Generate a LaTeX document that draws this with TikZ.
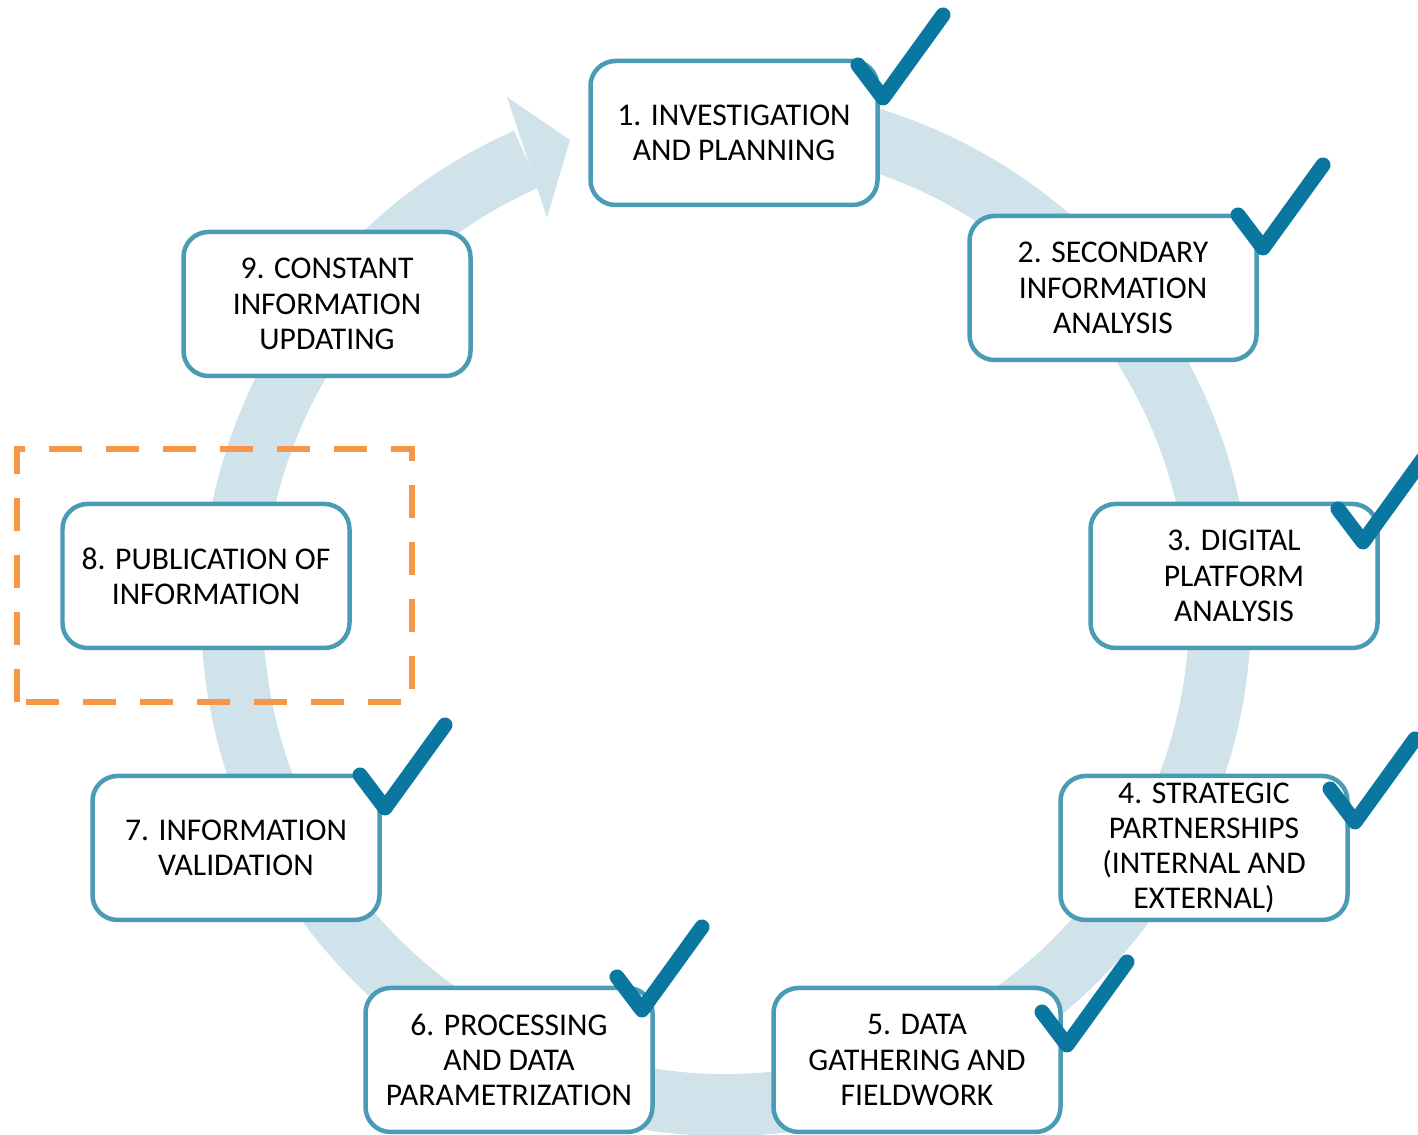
\documentclass[tikz,border=0pt]{standalone}
\usepackage{fontspec}
\setmainfont{Carlito}
\definecolor{ringblue}{HTML}{D0E3EB}
\definecolor{boxblue}{HTML}{4A9BB5}
\definecolor{tickblue}{HTML}{0A77A0}
\definecolor{dashorange}{HTML}{F79646}
\tikzset{
  stage/.style={draw=boxblue, line width=0.09cm, fill=white, rounded corners=0.5cm,
    minimum width=5.74cm, minimum height=2.88cm, align=center, inner sep=0pt,
    font=\fontsize{18}{20}\selectfont},
  tickmark/.style={draw=tickblue, line width=0.3cm, line cap=round, line join=round},
}
\newcommand{\tick}[1]{\draw[tickmark] #1 ++(-0.5,0.66) -- #1 -- ++(1.2,1.66);}

\begin{document}
\begin{tikzpicture}
    \useasboundingbox (0,0) rectangle (28.36,22.7);
    % ring with arrow head
    \draw[ringblue, line width=1.24cm] (14.52,10.48) ++(100:9.88) arc[start angle=100, end angle=-246.2, radius=9.88];
    \fill[ringblue] (10.14,20.76) -- (11.40,19.90) -- (10.94,18.34) -- cycle;
    % stages
    \node[stage] (s1) at (14.68,20.04) {1. INVESTIGATION\\AND PLANNING};
    \node[stage] (s2) at (22.26,16.94) {2. SECONDARY\\INFORMATION\\ANALYSIS};
    \node[stage] (s3) at (24.68,11.18) {3. DIGITAL\\PLATFORM\\ANALYSIS};
    \node[stage] (s4) at (24.08,5.74) {4. STRATEGIC\\PARTNERSHIPS\\(INTERNAL AND\\EXTERNAL)};
    \node[stage] (s5) at (18.34,1.50) {5. DATA\\GATHERING AND\\FIELDWORK};
    \node[stage] (s6) at (10.18,1.50) {6. PROCESSING\\AND DATA\\PARAMETRIZATION};
    \node[stage] (s7) at (4.72,5.74) {7. INFORMATION\\VALIDATION};
    \node[stage] (s8) at (4.12,11.18) {8. PUBLICATION OF\\INFORMATION};
    \node[stage] (s9) at (6.54,16.62) {9. CONSTANT\\INFORMATION\\UPDATING};
    % done marks
    \tick{(17.66,20.74)}
    \tick{(25.26,17.74)}
    \tick{(27.26,11.86)}
    \tick{(27.10,6.26)}
    \tick{(21.34,1.80)}
    \tick{(12.84,2.50)}
    \tick{(7.70,6.54)}
    % current step
    \draw[dashorange, line width=0.13cm, dash pattern=on 0.66cm off 0.48cm] (0.34,8.66) rectangle (8.24,13.72);
\end{tikzpicture}
\end{document}
